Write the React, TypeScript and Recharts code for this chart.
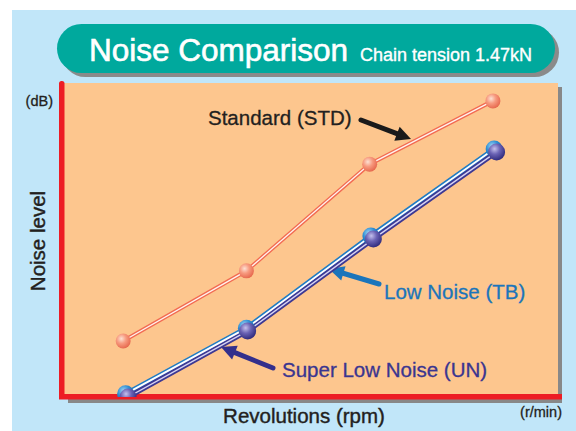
import React from "react";
import { LineChart, Line, XAxis, YAxis } from "recharts";

// Revolutions (arbitrary rpm units, axis is unlabelled) and noise level (relative dB, 0 = axis)
const rpmStd = [1000, 2000, 3000, 4000];
const noiseStd = [17.9, 40.3, 74.4, 94.6];
const rpmTB = [1020, 2000, 3010, 4010];
const noiseTB = [1.0, 22.0, 51.4, 79.2];
const rpmUN = [1040, 2010, 3030, 4030];
const noiseUN = [0, 21.1, 50.5, 78.3];

const seriesNames = ["Standard (STD)", "Low Noise (TB)", "Super Low Noise (UN)"];
const titleText = "Noise Comparison";
const subtitleText = "Chain tension 1.47kN";
const xTitle = "Revolutions (rpm)";
const yTitle = "Noise level";
const xUnit = "(r/min)";
const yUnit = "(dB)";

const stdData = rpmStd.map((x, i) => ({ x, y: noiseStd[i] }));
const tbData = rpmTB.map((x, i) => ({ x, y: noiseTB[i] }));
const unData = rpmUN.map((x, i) => ({ x, y: noiseUN[i] }));

const FONT = "'Liberation Sans', Arial, Helvetica, sans-serif";
const W = 576;
const H = 431;

function Arrow({ x1, y1, x2, y2, color, w = 5, hl = 15, hw = 15 }: any) {
  const dx = x2 - x1;
  const dy = y2 - y1;
  const len = Math.sqrt(dx * dx + dy * dy);
  const ux = dx / len;
  const uy = dy / len;
  const bx = x2 - ux * hl;
  const by = y2 - uy * hl;
  const px = -uy;
  const py = ux;
  const pts = `${x2},${y2} ${bx + px * hw / 2},${by + py * hw / 2} ${bx - px * hw / 2},${by - py * hw / 2}`;
  return (
    <g>
      <line x1={x1} y1={y1} x2={bx + ux * 2} y2={by + uy * 2} stroke={color} strokeWidth={w} strokeLinecap="round" />
      <polygon points={pts} fill={color} />
    </g>
  );
}

const ball = (fill: string, r: number, name: string) => (p: any) => (
  <circle key={`${name}-${p.index}`} cx={p.cx} cy={p.cy} r={r} fill={fill} />
);

export default function App() {
  return (
    <div style={{ position: "absolute", left: 0, top: 0, width: W, height: H, background: "#ffffff" }}>
      <svg width={W} height={H} style={{ position: "absolute", left: 0, top: 0 }}>
        <defs>
          <radialGradient id="gStd" cx="38%" cy="35%" r="70%">
            <stop offset="0%" stopColor="#fde0d2" />
            <stop offset="45%" stopColor="#f79a7f" />
            <stop offset="100%" stopColor="#e5644a" />
          </radialGradient>
          <radialGradient id="gUN" cx="38%" cy="32%" r="70%">
            <stop offset="0%" stopColor="#c4c0ec" />
            <stop offset="45%" stopColor="#6b63b5" />
            <stop offset="100%" stopColor="#2f2a7c" />
          </radialGradient>
          <radialGradient id="gTB" cx="38%" cy="32%" r="70%">
            <stop offset="0%" stopColor="#a6d8f5" />
            <stop offset="50%" stopColor="#2f8fd4" />
            <stop offset="100%" stopColor="#135ea6" />
          </radialGradient>
        </defs>
        {/* page panel */}
        <rect x={12} y={10} width={W - 12} height={H - 10} fill="#c1e6f9" />
        {/* title pill */}
        <rect x={61} y={28} width={498} height={49} rx={24.5} fill="#8a8a8a" />
        <rect x={57} y={24} width={498} height={49} rx={24.5} fill="#00a99d" />
        <text x={89} y={61} fontFamily={FONT} fontSize={31.5} fill="#ffffff" stroke="#ffffff" strokeWidth={0.6}>{titleText}</text>
        <text x={360} y={61} fontFamily={FONT} fontSize={18} fill="#ffffff" stroke="#ffffff" strokeWidth={0.35}>{subtitleText}</text>
        {/* plot panel */}
        <rect x={68} y={87} width={494} height={316} fill="#888888" />
        <rect x={64} y={83} width={494} height={312} fill="#fdc68e" />
        <rect x={59} y={81} width={5.5} height={318} rx={2.5} fill="#ed1c24" />
        <rect x={59} y={394} width={503} height={5.5} fill="#ed1c24" />
        {/* axis texts */}
        <text x={53} y={106} textAnchor="end" fontFamily={FONT} fontSize={14.5} fill="#231f20" stroke="#231f20" strokeWidth={0.3}>{yUnit}</text>
        <text x={562} y={417} textAnchor="end" fontFamily={FONT} fontSize={14.5} fill="#231f20" stroke="#231f20" strokeWidth={0.3}>{xUnit}</text>
        <text x={304} y={423} textAnchor="middle" fontFamily={FONT} fontSize={20.5} fill="#231f20" stroke="#231f20" strokeWidth={0.4}>{xTitle}</text>
        <text transform="translate(45,241) rotate(-90)" textAnchor="middle" fontFamily={FONT} fontSize={20.5} fill="#231f20" stroke="#231f20" strokeWidth={0.4}>{yTitle}</text>
        {/* series labels */}
        <text x={208} y={125} fontFamily={FONT} fontSize={20.5} fill="#231f20" stroke="#231f20" strokeWidth={0.3}>{seriesNames[0]}</text>
        <text x={384} y={299} fontFamily={FONT} fontSize={20.5} fill="#1b75bb" stroke="#1b75bb" strokeWidth={0.3}>{seriesNames[1]}</text>
        <text x={282} y={377} fontFamily={FONT} fontSize={20.5} fill="#3a3590" stroke="#3a3590" strokeWidth={0.3}>{seriesNames[2]}</text>
        <Arrow x1={361} y1={120} x2={411} y2={139} color="#1a1a1a" />
        <Arrow x1={379} y1={284} x2={329} y2={269} color="#1b75bb" />
        <Arrow x1={273} y1={368} x2={221} y2={347} color="#332f8c" />
      </svg>
      <div style={{ position: "absolute", left: 0, top: 0 }}>
        <LineChart width={W} height={H} margin={{ top: 84, right: 19, bottom: 34, left: 64 }}>
          <XAxis type="number" dataKey="x" domain={[520, 4520]} hide allowDataOverflow />
          <YAxis type="number" domain={[0, 100]} hide allowDataOverflow />
          <Line data={stdData} dataKey="y" name="STD base" stroke="#f26b52" strokeWidth={4} dot={false} isAnimationActive={false} />
          <Line data={stdData} dataKey="y" name={seriesNames[0]} stroke="#fff3ee" strokeWidth={1.3} dot={ball("url(#gStd)", 7.5, "std")} isAnimationActive={false} />
          <Line data={tbData} dataKey="y" name="TB base" stroke="#1f7cc4" strokeWidth={5} dot={false} isAnimationActive={false} />
          <Line data={unData} dataKey="y" name="UN base" stroke="#3d3893" strokeWidth={5} dot={false} isAnimationActive={false} />
          <Line data={tbData} dataKey="y" name="TB stripe" stroke="#ffffff" strokeWidth={1.8} dot={false} isAnimationActive={false} />
          <Line data={unData} dataKey="y" name="UN stripe" stroke="#d6d3f2" strokeWidth={1.4} dot={false} isAnimationActive={false} />
          <Line data={tbData} dataKey="y" name={seriesNames[1]} stroke="none" dot={ball("url(#gTB)", 8.5, "tb")} isAnimationActive={false} />
          <Line data={unData} dataKey="y" name={seriesNames[2]} stroke="none" dot={ball("url(#gUN)", 8.5, "un")} isAnimationActive={false} />
        </LineChart>
      </div>
    </div>
  );
}
